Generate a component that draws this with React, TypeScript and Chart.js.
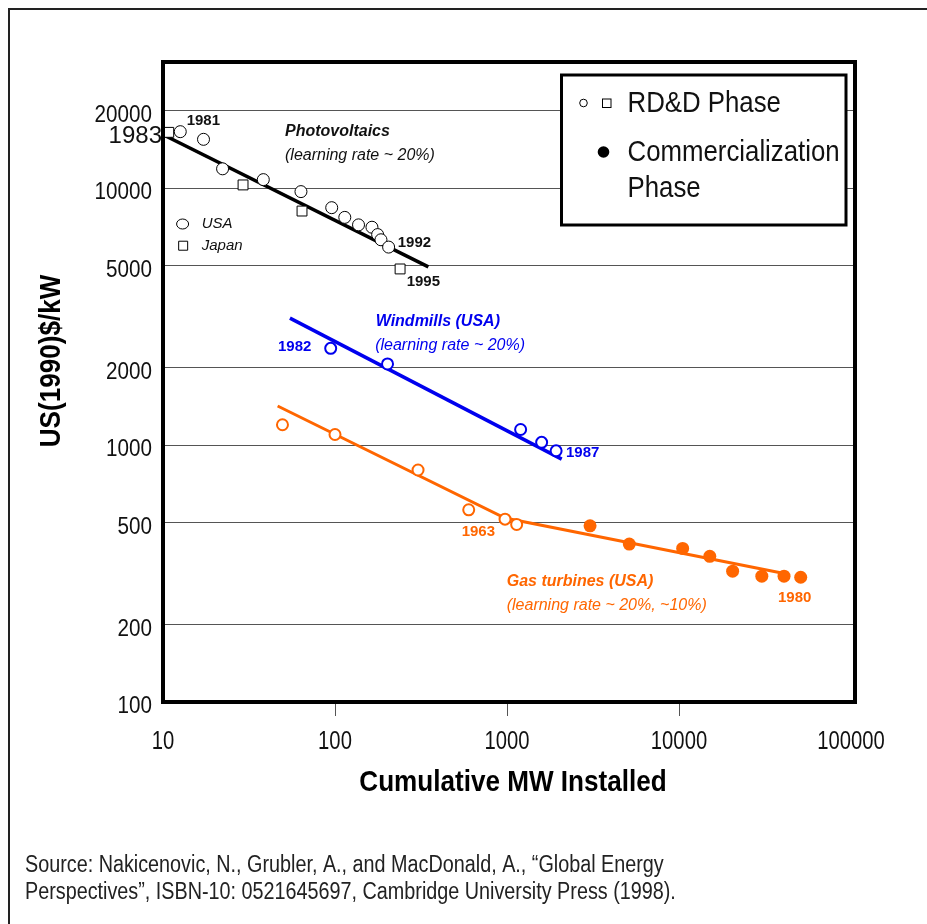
import { useEffect, useRef } from 'react';
import { Chart, registerables } from 'chart.js';

Chart.register(...registerables);

// ---------- data ----------
const xTickValues = [10, 100, 1000, 10000, 100000];
const yTickValues = [100, 200, 500, 1000, 2000, 5000, 10000, 20000];

// Photovoltaics
const pvUsaX = [12.6, 17.2, 22.2, 38.3, 63.4, 95.7, 114, 137, 164, 177, 185, 205];
const pvUsaY = [16600, 15500, 11900, 10800, 9700, 8400, 7700, 7200, 7050, 6600, 6300, 5900];
const pvJapanX = [10.8, 29.2, 64.3, 239];
const pvJapanY = [16500, 10300, 8150, 4850];
const pvFitX = [10.3, 349];
const pvFitY = [16000, 4940];

// Windmills (USA)
const windX = [94.4, 202, 1200, 1590, 1930];
const windY = [2380, 2070, 1150, 1025, 950];
const windFitX = [54.7, 2080];
const windFitY = [3120, 882];

// Gas turbines (USA)
const gasRdX = [49.5, 100, 304, 599, 974, 1138];
const gasRdY = [1200, 1100, 800, 560, 515, 491];
const gasComX = [3040, 5140, 10500, 15100, 20500, 30300, 40800, 51000];
const gasComY = [485, 412, 396, 369, 323, 309, 309, 306];
const gasFitX = [46.4, 973, 42300];
const gasFitY = [1420, 520, 315];

// ---------- styles ----------
const SANS = '"Liberation Sans", Arial, sans-serif';
const BLUE = '#0000EE';
const ORANGE = '#FF6600';
const INK = '#111111';

type Note = { text: string; x: number; y: number; align: CanvasTextAlign; font: string; color: string };

const notes: Note[] = [
  { text: '1983', x: 10, y: 15870, align: 'right', font: `24px ${SANS}`, color: INK },
  { text: '1981', x: 13.73, y: 18310, align: 'left', font: `bold 15px ${SANS}`, color: INK },
  { text: 'Photovoltaics', x: 51.2, y: 16600, align: 'left', font: `italic bold 16px ${SANS}`, color: INK },
  { text: '(learning rate ~ 20%)', x: 51.2, y: 13460, align: 'left', font: `italic 16px ${SANS}`, color: INK },
  { text: 'USA', x: 16.8, y: 7256, align: 'left', font: `italic 15px ${SANS}`, color: INK },
  { text: 'Japan', x: 16.8, y: 5973, align: 'left', font: `italic 15px ${SANS}`, color: INK },
  { text: '1992', x: 231.5, y: 6137, align: 'left', font: `bold 15px ${SANS}`, color: INK },
  { text: '1995', x: 261, y: 4325, align: 'left', font: `bold 15px ${SANS}`, color: INK },
  { text: '1982', x: 46.6, y: 2409, align: 'left', font: `bold 15px ${SANS}`, color: BLUE },
  { text: 'Windmills (USA)', x: 172.4, y: 3022, align: 'left', font: `italic bold 16px ${SANS}`, color: BLUE },
  { text: '(learning rate ~ 20%)', x: 171.2, y: 2452, align: 'left', font: `italic 16px ${SANS}`, color: BLUE },
  { text: '1987', x: 2203, y: 929, align: 'left', font: `bold 15px ${SANS}`, color: BLUE },
  { text: '1963', x: 545, y: 460, align: 'left', font: `bold 15px ${SANS}`, color: ORANGE },
  { text: 'Gas turbines (USA)', x: 996, y: 294, align: 'left', font: `italic bold 16px ${SANS}`, color: ORANGE },
  { text: '(learning rate ~ 20%, ~10%)', x: 996, y: 236.5, align: 'left', font: `italic 16px ${SANS}`, color: ORANGE },
  { text: '1980', x: 37640, y: 254.7, align: 'left', font: `bold 15px ${SANS}`, color: ORANGE },
];

const inlineKey = [
  { text: 'USA', x: 13.0, y: 7256, shape: 'circle' },
  { text: 'Japan', x: 13.1, y: 5973, shape: 'square' },
];

const yTitle = 'US(1990)$/kW';
const xTitle = 'Cumulative MW Installed';
const sourceLines = [
  'Source: Nakicenovic, N., Grubler, A., and MacDonald, A., \u201cGlobal Energy',
  'Perspectives\u201d, ISBN-10: 0521645697, Cambridge University Press (1998).',
];
const legendRows = ['RD&D Phase', 'Commercialization', 'Phase'];

const pts = (xs: number[], ys: number[]) => xs.map((x, i) => ({ x, y: ys[i] }));

// draw condensed (narrow) text by squeezing horizontally
function narrow(ctx: CanvasRenderingContext2D, text: string, x: number, y: number, align: CanvasTextAlign, font: string, sx: number) {
  ctx.save();
  ctx.translate(x, y);
  ctx.scale(sx, 1);
  ctx.font = font;
  ctx.textAlign = align;
  ctx.fillText(text, 0, 0);
  ctx.restore();
}

const overlay = {
  id: 'overlay',
  afterDatasetsDraw(chart: any) {
    const ctx: CanvasRenderingContext2D = chart.ctx;
    const xs = chart.scales.x;
    const ys = chart.scales.y;
    const ca = chart.chartArea;
    ctx.save();

    // outer frame
    ctx.strokeStyle = '#222';
    ctx.lineWidth = 2;
    ctx.beginPath();
    ctx.moveTo(9, 924);
    ctx.lineTo(9, 9);
    ctx.lineTo(927, 9);
    ctx.stroke();

    // plot border
    ctx.strokeStyle = '#000';
    ctx.lineWidth = 4;
    ctx.strokeRect(ca.left, ca.top, ca.right - ca.left, ca.bottom - ca.top);

    // axis tick labels (condensed face), placed by the scales
    ctx.textBaseline = 'middle';
    ctx.fillStyle = INK;
    ys.ticks.forEach((t: any) => {
      narrow(ctx, String(t.value), ca.left - 11, ys.getPixelForValue(t.value) + 4.5, 'right', `24px ${SANS}`, 0.86);
    });
    xs.ticks.forEach((t: any) => {
      narrow(ctx, String(t.value), xs.getPixelForValue(t.value), ca.bottom + 40, 'center', `25px ${SANS}`, 0.81);
    });

    // in-plot key (USA / Japan)
    ctx.lineWidth = 1;
    inlineKey.forEach((k) => {
      const px = xs.getPixelForValue(k.x);
      const py = ys.getPixelForValue(k.y);
      ctx.fillStyle = '#fff';
      ctx.strokeStyle = '#000';
      ctx.beginPath();
      if (k.shape === 'circle') {
        ctx.ellipse(px, py, 6, 5, 0, 0, Math.PI * 2);
      } else {
        ctx.rect(px - 4.5, py - 4.5, 9, 9);
      }
      ctx.fill();
      ctx.stroke();
    });

    // annotations
    notes.forEach((n) => {
      ctx.font = n.font;
      ctx.fillStyle = n.color;
      ctx.textAlign = n.align;
      let px = xs.getPixelForValue(n.x);
      if (n.align === 'right') px -= 1;
      ctx.fillText(n.text, px, ys.getPixelForValue(n.y));
    });

    // legend box
    const bx = 561.5, by = 75, bw = 284.5, bh = 150;
    ctx.fillStyle = '#fff';
    ctx.fillRect(bx, by, bw, bh);
    ctx.strokeStyle = '#000';
    ctx.lineWidth = 3;
    ctx.strokeRect(bx, by, bw, bh);
    ctx.lineWidth = 1;
    ctx.beginPath();
    ctx.arc(bx + 22, by + 28, 3.8, 0, Math.PI * 2);
    ctx.stroke();
    ctx.strokeRect(bx + 41, by + 24, 8.5, 8.5);
    ctx.fillStyle = '#000';
    ctx.beginPath();
    ctx.arc(bx + 42, by + 77, 5.8, 0, Math.PI * 2);
    ctx.fill();
    ctx.fillStyle = INK;
    narrow(ctx, legendRows[0], bx + 66, by + 29, 'left', `30px ${SANS}`, 0.86);
    narrow(ctx, legendRows[1], bx + 66, by + 78, 'left', `30px ${SANS}`, 0.86);
    narrow(ctx, legendRows[2], bx + 66, by + 114, 'left', `30px ${SANS}`, 0.86);

    // axis titles
    ctx.fillStyle = '#000';
    narrow(ctx, xTitle, 513, 783, 'center', `bold 30px ${SANS}`, 0.87);
    ctx.save();
    ctx.translate(52, 361);
    ctx.rotate(-Math.PI / 2);
    narrow(ctx, yTitle, 0, 0, 'center', `bold 30px ${SANS}`, 0.87);
    ctx.restore();

    // source note
    ctx.fillStyle = '#222';
    narrow(ctx, sourceLines[0], 25, 866, 'left', `23px ${SANS}`, 0.86);
    narrow(ctx, sourceLines[1], 25, 893, 'left', `23px ${SANS}`, 0.86);

    ctx.restore();
  },
};

export default function App() {
  const ref = useRef<HTMLCanvasElement>(null);

  useEffect(() => {
    const canvas = ref.current;
    if (!canvas) return;
    const chart = new Chart(canvas, {
      type: 'scatter',
      data: {
        datasets: [
          { label: 'PV USA', data: pts(pvUsaX, pvUsaY), pointStyle: 'circle', pointRadius: 6, pointBorderWidth: 1, pointBorderColor: '#000', pointBackgroundColor: '#fff', order: 1 },
          { label: 'PV Japan', data: pts(pvJapanX, pvJapanY), pointStyle: 'rect', pointRadius: 7, pointBorderWidth: 1, pointBorderColor: '#000', pointBackgroundColor: '#fff', order: 1 },
          { label: 'PV fit', data: pts(pvFitX, pvFitY), showLine: true, borderColor: '#000', borderWidth: 3.5, pointRadius: 0, order: 5 },
          { label: 'Wind', data: pts(windX, windY), pointStyle: 'circle', pointRadius: 5.5, pointBorderWidth: 2, pointBorderColor: BLUE, pointBackgroundColor: '#fff', order: 1 },
          { label: 'Wind fit', data: pts(windFitX, windFitY), showLine: true, borderColor: BLUE, borderWidth: 3.5, pointRadius: 0, order: 5 },
          { label: 'Gas RD&D', data: pts(gasRdX, gasRdY), pointStyle: 'circle', pointRadius: 5.5, pointBorderWidth: 2, pointBorderColor: ORANGE, pointBackgroundColor: '#fff', order: 1 },
          { label: 'Gas commercial', data: pts(gasComX, gasComY), pointStyle: 'circle', pointRadius: 6.5, pointBorderWidth: 0, pointBorderColor: ORANGE, pointBackgroundColor: ORANGE, order: 1 },
          { label: 'Gas fit', data: pts(gasFitX, gasFitY), showLine: true, borderColor: ORANGE, borderWidth: 3, pointRadius: 0, order: 5 },
        ],
      },
      options: {
        responsive: false,
        animation: false,
        events: [],
        layout: { padding: { top: 62, right: 72, left: 0, bottom: 0 } },
        plugins: { legend: { display: false }, tooltip: { enabled: false }, title: { display: false } },
        scales: {
          x: {
            type: 'logarithmic',
            min: 10,
            max: 105500,
            afterBuildTicks: (s: any) => { s.ticks = xTickValues.map((v) => ({ value: v })); },
            afterFit: (s: any) => { s.height = 222; },
            border: { display: false },
            grid: {
              drawOnChartArea: false,
              drawTicks: true,
              tickLength: 14,
              tickWidth: 1,
              tickColor: (c: any) => ([100, 1000, 10000].includes(c.tick?.value) ? '#555' : 'rgba(0,0,0,0)'),
            },
            ticks: { display: false, autoSkip: false, maxRotation: 0 },
          },
          y: {
            type: 'logarithmic',
            min: 100,
            max: 31000,
            afterBuildTicks: (s: any) => { s.ticks = yTickValues.map((v) => ({ value: v })); },
            afterFit: (s: any) => { s.width = 163; },
            border: { display: false },
            grid: {
              drawTicks: false,
              lineWidth: 1,
              color: (c: any) => (c.tick?.value === 100 ? 'rgba(0,0,0,0)' : '#555'),
            },
            ticks: { display: false, autoSkip: false },
          },
        },
      },
      plugins: [overlay],
    } as any);
    return () => chart.destroy();
  }, []);

  return (
    <div style={{ position: 'absolute', left: 0, top: 0, width: 927, height: 924, background: '#fff' }}>
      <canvas ref={ref} width={927} height={924} style={{ width: 927, height: 924, display: 'block' }} />
    </div>
  );
}
